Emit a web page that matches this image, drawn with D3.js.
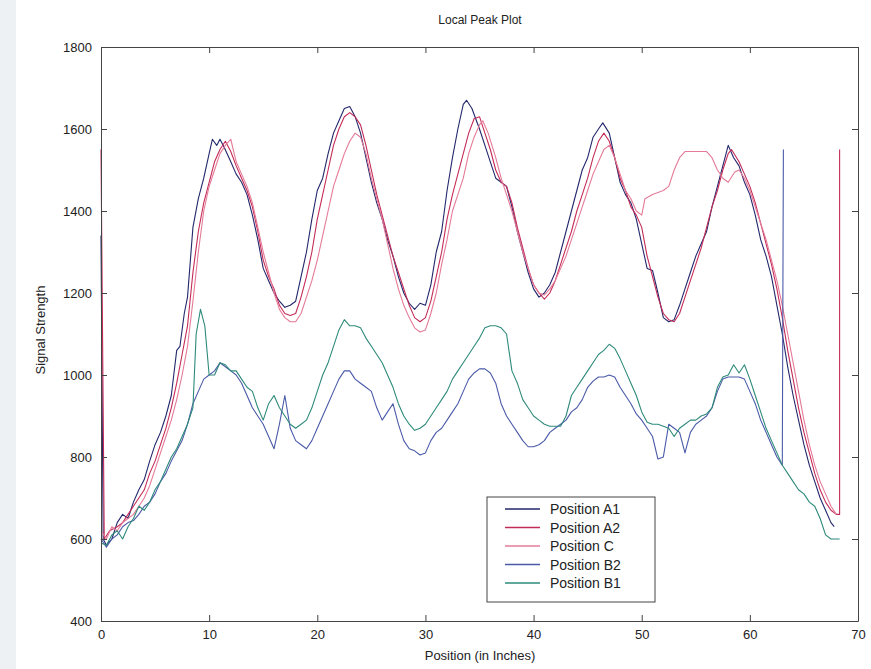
<!DOCTYPE html>
<html>
<head>
<meta charset="utf-8">
<script src="https://cdn.jsdelivr.net/npm/d3@7"></script>
<style>
  body { margin: 0; background: #fff; }
  svg { font-family: "Liberation Sans", Arial, sans-serif; }
</style>
</head>
<body>
<svg id="chart" width="871" height="669"></svg>
<script>
// series, [position, signal]
var a1 = [[0,1340],[0.2,600],[0.5,585],[1,600],[1.5,640],[2,660],[2.5,650],[3,690],[3.5,720],[4,745],[4.5,790],[5,830],[5.5,860],[6,900],[6.5,950],[7,1060],[7.3,1070],[7.7,1150],[8,1190],[8.5,1360],[9,1430],[9.5,1480],[10,1540],[10.3,1575],[10.7,1560],[11,1575],[11.4,1555],[12,1520],[12.5,1490],[13,1470],[13.5,1440],[14,1390],[14.5,1330],[15,1260],[15.5,1230],[16,1200],[16.5,1180],[17,1165],[17.5,1170],[18,1180],[18.5,1240],[19,1300],[19.5,1380],[20,1450],[20.5,1480],[21,1540],[21.5,1590],[22,1620],[22.5,1650],[23,1655],[23.5,1630],[24,1590],[24.5,1530],[25,1470],[25.5,1420],[26,1380],[26.5,1330],[27,1290],[27.5,1240],[28,1200],[28.5,1175],[29,1160],[29.5,1175],[30,1170],[30.5,1220],[31,1300],[31.5,1350],[32,1450],[32.5,1530],[33,1600],[33.5,1660],[33.8,1670],[34.3,1650],[35,1600],[35.5,1560],[36,1520],[36.5,1480],[37,1470],[37.5,1460],[38,1410],[38.5,1350],[39,1300],[39.5,1250],[40,1210],[40.5,1190],[41,1200],[41.5,1220],[42,1250],[42.5,1300],[43,1350],[43.5,1400],[44,1450],[44.5,1500],[45,1530],[45.5,1580],[46,1600],[46.4,1615],[47,1590],[47.5,1530],[48,1470],[48.5,1440],[49,1420],[49.5,1380],[50,1320],[50.5,1260],[51,1255],[51.5,1200],[52,1140],[52.5,1130],[53,1135],[53.5,1170],[54,1210],[54.5,1250],[55,1290],[55.5,1320],[56,1350],[56.5,1410],[57,1460],[57.5,1510],[58,1560],[58.5,1530],[59,1510],[59.5,1470],[60,1440],[60.5,1390],[61,1330],[61.5,1290],[62,1240],[62.5,1170],[63,1100],[63.5,1020],[64,950],[64.5,890],[65,830],[65.5,780],[66,740],[66.5,700],[67,670],[67.5,640],[67.8,630]];

var a2 = [[0,1550],[0.3,600],[0.8,620],[1.5,630],[2,640],[2.5,660],[3,680],[3.5,700],[4,720],[4.5,760],[5,790],[5.5,830],[6,870],[6.5,920],[7,980],[7.5,1050],[8,1120],[8.5,1250],[9,1350],[9.5,1420],[10,1470],[10.5,1520],[11,1550],[11.5,1570],[12,1545],[12.5,1510],[13,1480],[13.5,1450],[14,1410],[14.5,1350],[15,1280],[15.5,1240],[16,1210],[16.5,1170],[17,1150],[17.5,1145],[18,1150],[18.5,1190],[19,1240],[19.5,1300],[20,1380],[20.5,1440],[21,1500],[21.5,1560],[22,1600],[22.5,1630],[23,1640],[23.5,1630],[24,1610],[24.5,1560],[25,1500],[25.5,1440],[26,1390],[26.5,1340],[27,1290],[27.5,1250],[28,1210],[28.5,1170],[29,1140],[29.5,1130],[30,1140],[30.5,1180],[31,1240],[31.5,1300],[32,1380],[32.5,1440],[33,1490],[33.5,1540],[34,1590],[34.5,1625],[35,1630],[35.5,1590],[36,1550],[36.5,1500],[37,1470],[37.5,1460],[38,1420],[38.5,1360],[39,1310],[39.5,1260],[40,1220],[40.5,1200],[41,1185],[41.5,1200],[42,1230],[42.5,1270],[43,1310],[43.5,1350],[44,1400],[44.5,1440],[45,1480],[45.5,1530],[46,1570],[46.5,1590],[47,1570],[47.5,1530],[48,1480],[48.5,1450],[49,1410],[49.5,1390],[50,1360],[50.5,1290],[51,1240],[51.5,1190],[52,1150],[52.5,1135],[53,1130],[53.5,1150],[54,1190],[54.5,1230],[55,1270],[55.5,1310],[56,1360],[56.5,1410],[57,1450],[57.5,1500],[58,1540],[58.3,1550],[59,1520],[59.5,1490],[60,1460],[60.5,1420],[61,1370],[61.5,1320],[62,1270],[62.5,1210],[63,1140],[63.5,1060],[64,990],[64.5,920],[65,860],[65.5,810],[66,760],[66.5,720],[67,690],[67.5,670],[68,660],[68.3,660],[68.3,1550]];

var posC = [[0,620],[0.5,600],[1,630],[1.5,620],[2,640],[2.5,650],[3,660],[3.5,680],[4,700],[4.5,730],[5,770],[5.5,810],[6,850],[6.5,890],[7,940],[7.5,1000],[8,1070],[8.5,1180],[9,1300],[9.5,1400],[10,1460],[10.5,1500],[11,1540],[11.5,1560],[12,1575],[12.5,1520],[13,1490],[13.5,1460],[14,1420],[14.5,1360],[15,1300],[15.5,1250],[16,1200],[16.5,1160],[17,1140],[17.5,1130],[18,1130],[18.5,1150],[19,1190],[19.5,1230],[20,1280],[20.5,1340],[21,1400],[21.5,1460],[22,1500],[22.5,1540],[23,1570],[23.5,1590],[24,1580],[24.5,1540],[25,1480],[25.5,1430],[26,1380],[26.5,1320],[27,1260],[27.5,1210],[28,1170],[28.5,1140],[29,1115],[29.5,1105],[30,1110],[30.5,1150],[31,1200],[31.5,1270],[32,1330],[32.5,1400],[33,1440],[33.5,1480],[34,1540],[34.5,1580],[35,1610],[35.3,1620],[35.8,1590],[36.5,1530],[37,1480],[37.5,1440],[38,1400],[38.5,1350],[39,1300],[39.5,1260],[40,1220],[40.5,1200],[41,1195],[41.5,1210],[42,1230],[42.5,1260],[43,1290],[43.5,1330],[44,1370],[44.5,1410],[45,1450],[45.5,1490],[46,1520],[46.5,1550],[47,1560],[47.5,1530],[48,1490],[48.5,1450],[49,1430],[49.5,1400],[50,1390],[50.3,1430],[51,1440],[52,1450],[52.5,1460],[53,1500],[53.5,1530],[54,1545],[55,1545],[56,1545],[56.5,1530],[57,1500],[57.5,1480],[58,1470],[58.6,1495],[59,1500],[59.5,1480],[60,1450],[60.5,1410],[61,1370],[61.5,1330],[62,1280],[62.5,1230],[63,1170],[63.5,1100],[64,1030],[64.5,960],[65,890],[65.5,830],[66,780],[66.5,740],[67,710],[67.5,680],[68,660]];

var b2 = [[0,600],[0.5,580],[1,600],[1.5,610],[2,630],[2.5,640],[3,645],[3.5,660],[4,680],[4.5,690],[5,710],[5.5,740],[6,760],[6.5,790],[7,815],[7.5,840],[8,880],[8.5,930],[9,960],[9.5,990],[10,1000],[10.5,1010],[11,1030],[11.5,1020],[12,1010],[12.5,1000],[13,980],[13.5,950],[14,920],[14.5,900],[15,880],[15.5,850],[16,820],[16.5,880],[17,950],[17.5,870],[18,840],[18.5,830],[19,820],[19.5,840],[20,870],[20.5,900],[21,930],[21.5,960],[22,990],[22.5,1010],[23,1010],[23.5,990],[24,980],[24.5,970],[25,960],[25.5,920],[26,890],[26.5,910],[27,930],[27.5,880],[28,840],[28.5,820],[29,815],[29.5,805],[30,810],[30.5,840],[31,860],[31.5,870],[32,890],[32.5,910],[33,930],[33.5,960],[34,990],[34.5,1005],[35,1015],[35.5,1015],[36,1005],[36.5,980],[37,930],[37.5,900],[38,880],[38.5,860],[39,840],[39.5,825],[40,825],[40.5,830],[41,840],[41.5,860],[42,870],[42.5,880],[43,890],[43.5,910],[44,920],[44.5,940],[45,970],[45.5,985],[46,995],[46.5,995],[47,1000],[47.5,995],[48,970],[48.5,950],[49,930],[49.5,905],[50,890],[50.5,870],[51,850],[51.5,795],[52,800],[52.5,880],[53,870],[53.5,860],[54,810],[54.5,860],[55,880],[55.5,890],[56,900],[56.5,920],[57,960],[57.5,990],[58,995],[58.5,995],[59,995],[59.5,990],[60,960],[60.5,930],[61,890],[61.5,860],[62,830],[62.5,800],[63,780],[63.1,1550]];

var b1 = [[0,590],[0.5,585],[1,610],[1.5,620],[2,600],[2.5,630],[3,650],[3.5,680],[4,670],[4.5,690],[5,720],[5.5,740],[6,770],[6.5,800],[7,820],[7.5,850],[8,880],[8.5,920],[8.8,1100],[9.2,1160],[9.6,1120],[10,1000],[10.5,1000],[11,1030],[11.5,1025],[12,1010],[12.5,1010],[13,990],[13.5,970],[14,960],[14.5,920],[15,890],[15.5,930],[16,950],[16.5,920],[17,900],[17.5,880],[18,870],[18.5,880],[19,890],[19.5,920],[20,960],[20.5,1000],[21,1030],[21.5,1070],[22,1110],[22.5,1135],[23,1120],[23.5,1120],[24,1115],[24.5,1090],[25,1070],[25.5,1050],[26,1030],[26.5,1000],[27,970],[27.5,930],[28,900],[28.5,880],[29,865],[29.5,870],[30,880],[30.5,900],[31,920],[31.5,940],[32,960],[32.5,990],[33,1010],[33.5,1030],[34,1050],[34.5,1070],[35,1090],[35.5,1115],[36,1120],[36.5,1120],[37,1115],[37.5,1100],[38,1010],[38.5,980],[39,940],[39.5,920],[40,900],[40.5,890],[41,880],[41.5,875],[42,875],[42.5,875],[43,900],[43.5,950],[44,970],[44.5,990],[45,1010],[45.5,1030],[46,1050],[46.5,1060],[47,1075],[47.5,1065],[48,1040],[48.5,1010],[49,980],[49.5,950],[50,910],[50.5,885],[51,880],[51.5,880],[52,875],[52.5,870],[53,850],[53.5,870],[54,880],[54.5,890],[55,890],[55.5,900],[56,905],[56.5,920],[57,970],[57.5,995],[58,1000],[58.5,1025],[59,1005],[59.5,1025],[60,990],[60.5,950],[61,910],[61.5,870],[62,840],[62.5,810],[63,780],[63.5,760],[64,740],[64.5,720],[65,710],[65.5,690],[66,680],[66.5,650],[67,610],[67.5,600],[68.3,600]];

var seriesNames = ["Position A1", "Position A2", "Position C", "Position B2", "Position B1"];
var seriesData = [a1, a2, posC, b2, b1];
var seriesColors = ["#23276b", "#c42c58", "#e57a98", "#4a5aa8", "#2e8a7a"];
var xTicks = [0, 10, 20, 30, 40, 50, 60, 70];
var yTicks = [400, 600, 800, 1000, 1200, 1400, 1600, 1800];

var svg = d3.select("#chart");

// scan edge
svg.append("rect").attr("x", 0).attr("y", 0).attr("width", 16).attr("height", 669).attr("fill", "#eef1f3");

var x = d3.scaleLinear().domain([0, 70]).range([101, 858]);
var y = d3.scaleLinear().domain([400, 1800]).range([621, 47]);

// lines
var line = d3.line().x(function (d) { return x(d[0]); }).y(function (d) { return y(d[1]); });
svg.append("g").selectAll("path")
    .data(seriesData)
    .enter()
    .append("path")
    .attr("d", line)
    .attr("fill", "none")
    .attr("stroke", function (d, i) { return seriesColors[i]; })
    .attr("stroke-width", 1.1)
    .attr("stroke-linejoin", "round");

// box + ticks (ticks point inward like matlab)
var axisColor = "#444";
var fmt = d3.format("d");
var gx = svg.append("g").attr("transform", "translate(0,621)")
    .call(d3.axisBottom(x).tickValues(xTicks).tickFormat(fmt).tickSizeInner(-6).tickSizeOuter(0).tickPadding(9));
var gxt = svg.append("g").attr("transform", "translate(0,47)")
    .call(d3.axisTop(x).tickValues(xTicks).tickSizeInner(-6).tickSizeOuter(0).tickFormat(""));
var gy = svg.append("g").attr("transform", "translate(101,0)")
    .call(d3.axisLeft(y).tickValues(yTicks).tickFormat(fmt).tickSizeInner(-6).tickSizeOuter(0).tickPadding(9));
var gyr = svg.append("g").attr("transform", "translate(858,0)")
    .call(d3.axisRight(y).tickValues(yTicks).tickSizeInner(-6).tickSizeOuter(0).tickFormat(""));
[gx, gxt, gy, gyr].forEach(function (g) {
    g.selectAll("path, line").attr("stroke", axisColor);
    g.selectAll("text").attr("fill", "#222").style("font-size", "13px");
});

// titles
svg.append("text").attr("x", 480).attr("y", 24).attr("text-anchor", "middle")
    .style("font-size", "12px").attr("fill", "#222").text("Local Peak Plot");
svg.append("text").attr("x", 480).attr("y", 660).attr("text-anchor", "middle")
    .style("font-size", "13px").attr("fill", "#222").text("Position (in Inches)");
svg.append("text").attr("transform", "translate(45,330) rotate(-90)").attr("text-anchor", "middle")
    .style("font-size", "13px").attr("fill", "#222").text("Signal Strength");

// legend
var legend = svg.append("g").attr("transform", "translate(487,497)");
legend.append("rect").attr("width", 168).attr("height", 105)
    .attr("fill", "#fff").attr("stroke", "#444");
var items = legend.selectAll("g.item").data(seriesNames).enter().append("g")
    .attr("transform", function (d, i) { return "translate(0," + (12 + i * 18.5) + ")"; });
items.append("line").attr("x1", 18).attr("x2", 53).attr("y1", 0).attr("y2", 0)
    .attr("stroke", function (d, i) { return seriesColors[i]; }).attr("stroke-width", 1.3);
items.append("text").attr("x", 63).attr("y", 5).style("font-size", "14px").attr("fill", "#222")
    .text(function (d) { return d; });
</script>
</body>
</html>
